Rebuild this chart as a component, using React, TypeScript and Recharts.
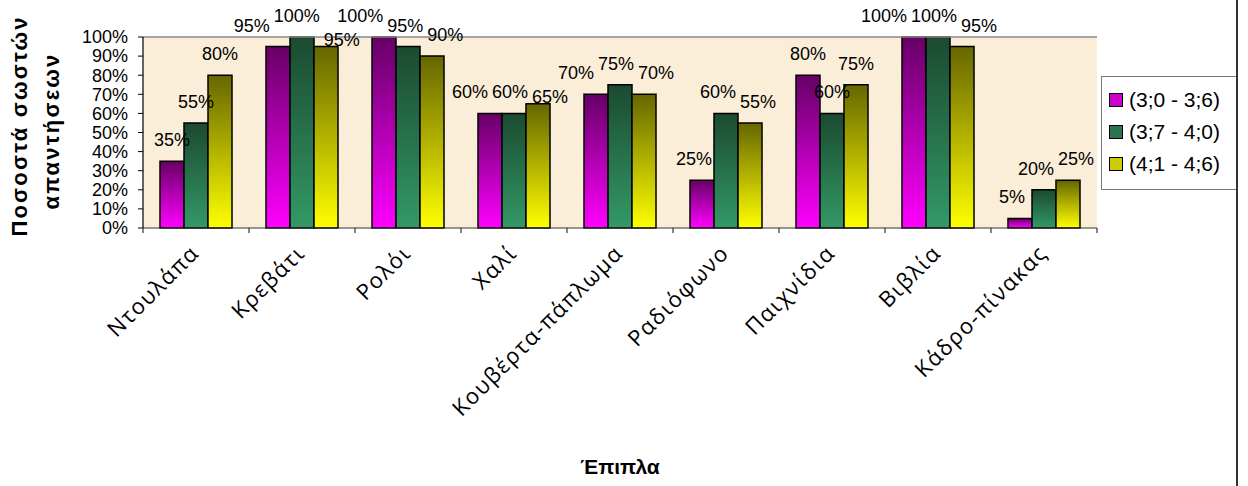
import React from 'react';
import { BarChart, Bar, XAxis, YAxis, CartesianGrid, LabelList, Legend, ReferenceLine } from 'recharts';

const categories = ['Ντουλάπα', 'Κρεβάτι', 'Ρολόι', 'Χαλί', 'Κουβέρτα-πάπλωμα', 'Ραδιόφωνο', 'Παιχνίδια', 'Βιβλία', 'Κάδρο-πίνακας'];
const group1 = [35, 95, 100, 60, 70, 25, 80, 100, 5];
const group2 = [55, 100, 95, 60, 75, 60, 60, 100, 20];
const group3 = [80, 95, 90, 65, 70, 55, 75, 95, 25];
const seriesNames = ['(3;0 - 3;6)', '(3;7 - 4;0)', '(4;1 - 4;6)'];
const yTicks = [0, 10, 20, 30, 40, 50, 60, 70, 80, 90, 100];
const yTitle = ['Ποσοστά σωστών', 'απαντήσεων'];
const xTitle = 'Έπιπλα';

const gradTop = ['#660066', '#1B4A30', '#666600'];
const gradBottom = ['#FF00FF', '#339966', '#FFFF00'];
const swatch = ['#CC00CC', '#2A7352', '#CCCC00'];

const groups = [group1, group2, group3];
const data = categories.map((name, i) => ({ name, g1: group1[i], g2: group2[i], g3: group3[i] }));

const LABEL_FS = 18;
const CAT_GAP = 17;
const labelWidth = (v: number) => String(v).length * LABEL_FS * 0.556 + LABEL_FS * 0.889;

// Excel-like: push overlapping labels of one category apart horizontally
function withinCategory(i: number, barW: number, ppu: number) {
  const vals = groups.map((g) => g[i]);
  const cs = vals.map((_, k) => k * barW);
  const ys = vals.map((v) => -v * ppu);
  for (let k = 1; k < vals.length; k++) {
    const j = k - 1;
    if (Math.abs(ys[k] - ys[j]) < 17) {
      const d = cs[j] + labelWidth(vals[j]) / 2 - (cs[k] - labelWidth(vals[k]) / 2) + 4;
      if (d > 0) {
        for (let m = 0; m < k; m++) cs[m] -= d / 2;
        cs[k] += d / 2;
      }
    }
  }
  return cs;
}

// If the last label of a category collides with the first one of the next, drop it down
function labelLayout(i: number, barW: number, ppu: number) {
  const cs = withinCategory(i, barW, ppu);
  const dys = [0, 0, 0];
  if (i < categories.length - 1) {
    const band = 3 * barW + 2 * CAT_GAP;
    const next = withinCategory(i + 1, barW, ppu);
    const vL = group3[i];
    const vR = group1[i + 1];
    const yL = -vL * ppu;
    const yR = -vR * ppu;
    const right = cs[2] + labelWidth(vL) / 2;
    const left = band + next[0] - labelWidth(vR) / 2;
    if (Math.abs(yL - yR) < 17 && right > left) dys[2] = 14;
  }
  return { cs, dys };
}

const CatTick = (props: any) => {
  const { x, y, payload, index } = props;
  const off = payload && payload.offset != null ? payload.offset : 53;
  const ax = x - 1;
  const ay = y + 21;
  return (
    <g>
      <line x1={x - off} x2={x - off} y1={y} y2={y + 5} stroke="#333" strokeWidth={1.2} />
      {index === categories.length - 1 && (
        <line x1={x + off} x2={x + off} y1={y} y2={y + 5} stroke="#333" strokeWidth={1.2} />
      )}
      <text
        x={ax}
        y={ay}
        dy="0.35em"
        textAnchor="end"
        transform={`rotate(-45 ${ax} ${ay})`}
        fontFamily="'Open Sans', sans-serif"
        fontSize={22}
        letterSpacing={1.5}
        fill="#000"
      >
        {payload.value}
      </text>
    </g>
  );
};

const PctLabel = (props: any) => {
  const { x, y, width, height, value, index, k } = props;
  const ppu = value ? height / value : 1.9;
  const { cs, dys } = labelLayout(index, width, ppu);
  const cx = x + width / 2 - k * width + cs[k];
  return (
    <text x={cx} y={y - 15 + dys[k]} textAnchor="middle" fontFamily="Arial, 'Liberation Sans', sans-serif" fontSize={LABEL_FS} fill="#000">
      {value}%
    </text>
  );
};

const YTitle = () => (
  <g fontFamily="Arial, 'Liberation Sans', sans-serif" fontWeight="bold" fontSize={22} letterSpacing={2.2} fill="#000">
    <text x={19} y={126} textAnchor="middle" dominantBaseline="central" transform="rotate(-90 19 126)">{yTitle[0]}</text>
    <text x={51} y={131} textAnchor="middle" dominantBaseline="central" transform="rotate(-90 51 131)">{yTitle[1]}</text>
  </g>
);

const LegendBox = () => (
  <div
    style={{
      width: 135,
      height: 114,
      border: '1px solid #777',
      borderRight: 'none',
      background: '#fff',
      boxSizing: 'border-box',
      paddingTop: 7,
      fontFamily: "Arial, 'Liberation Sans', sans-serif",
      fontSize: 21,
    }}
  >
    {seriesNames.map((n, i) => (
      <div key={n} style={{ display: 'flex', alignItems: 'center', height: 32, paddingLeft: 7 }}>
        <span style={{ display: 'inline-block', width: 12, height: 12, background: swatch[i], border: '1.5px solid #000', marginRight: 6 }} />
        <span>{n}</span>
      </div>
    ))}
  </div>
);

export default function App() {
  return (
    <div style={{ position: 'absolute', left: 0, top: 0, width: 1248, height: 486, background: '#fff' }}>
      <BarChart
        width={1248}
        height={486}
        data={data}
        margin={{ top: 37, right: 151, bottom: 58, left: 83 }}
        barCategoryGap={CAT_GAP}
        barGap={0}
      >
        <defs>
          {gradTop.map((c, i) => (
            <linearGradient key={i} id={`grad${i}`} x1="0" y1="0" x2="0" y2="1">
              <stop offset="0%" stopColor={c} />
              <stop offset="100%" stopColor={gradBottom[i]} />
            </linearGradient>
          ))}
        </defs>
        <CartesianGrid horizontal={false} vertical={false} fill="#FBEED9" stroke="none" />
        <XAxis
          dataKey="name"
          type="category"
          height={200}
          axisLine={{ stroke: '#333', strokeWidth: 1.2 }}
          tickLine={false}
          tickSize={0}
          tickMargin={0}
          interval={0}
          tick={<CatTick />}
          label={{ value: xTitle, position: 'insideBottom', offset: -46, fontFamily: "Arial, 'Liberation Sans', sans-serif", fontWeight: 'bold', fontSize: 21, fill: '#000' }}
        />
        <YAxis
          domain={[0, 100]}
          ticks={yTicks}
          interval={0}
          width={60}
          axisLine={{ stroke: '#000', strokeWidth: 1.2 }}
          tickLine={{ stroke: '#000' }}
          tickSize={5}
          tickMargin={10}
          tickFormatter={(v: number) => `${v}%`}
          tick={{ fontFamily: "Arial, 'Liberation Sans', sans-serif", fontSize: 18, fill: '#000' }}
          label={<YTitle />}
        />
        <YAxis yAxisId="right" orientation="right" width={0} domain={[0, 100]} tick={false} tickLine={false} axisLine={{ stroke: '#888', strokeWidth: 1.5 }} />
        <ReferenceLine y={100} stroke="#888" strokeWidth={1.5} />
        <Legend
          align="center"
          verticalAlign="middle"
          layout="horizontal"
          content={<LegendBox />}
          wrapperStyle={{ position: 'absolute', left: 1101, top: 76, width: 135, height: 114 }}
        />
        <Bar dataKey="g1" name={seriesNames[0]} fill="url(#grad0)" stroke="#000" strokeWidth={1.5} isAnimationActive={false}>
          <LabelList dataKey="g1" content={(p: any) => <PctLabel {...p} k={0} />} />
        </Bar>
        <Bar dataKey="g2" name={seriesNames[1]} fill="url(#grad1)" stroke="#000" strokeWidth={1.5} isAnimationActive={false}>
          <LabelList dataKey="g2" content={(p: any) => <PctLabel {...p} k={1} />} />
        </Bar>
        <Bar dataKey="g3" name={seriesNames[2]} fill="url(#grad2)" stroke="#000" strokeWidth={1.5} isAnimationActive={false}>
          <LabelList dataKey="g3" content={(p: any) => <PctLabel {...p} k={2} />} />
        </Bar>
      </BarChart>
      <div style={{ position: 'absolute', left: 1236, top: 0, width: 1.5, height: 486, background: '#333' }} />
    </div>
  );
}
